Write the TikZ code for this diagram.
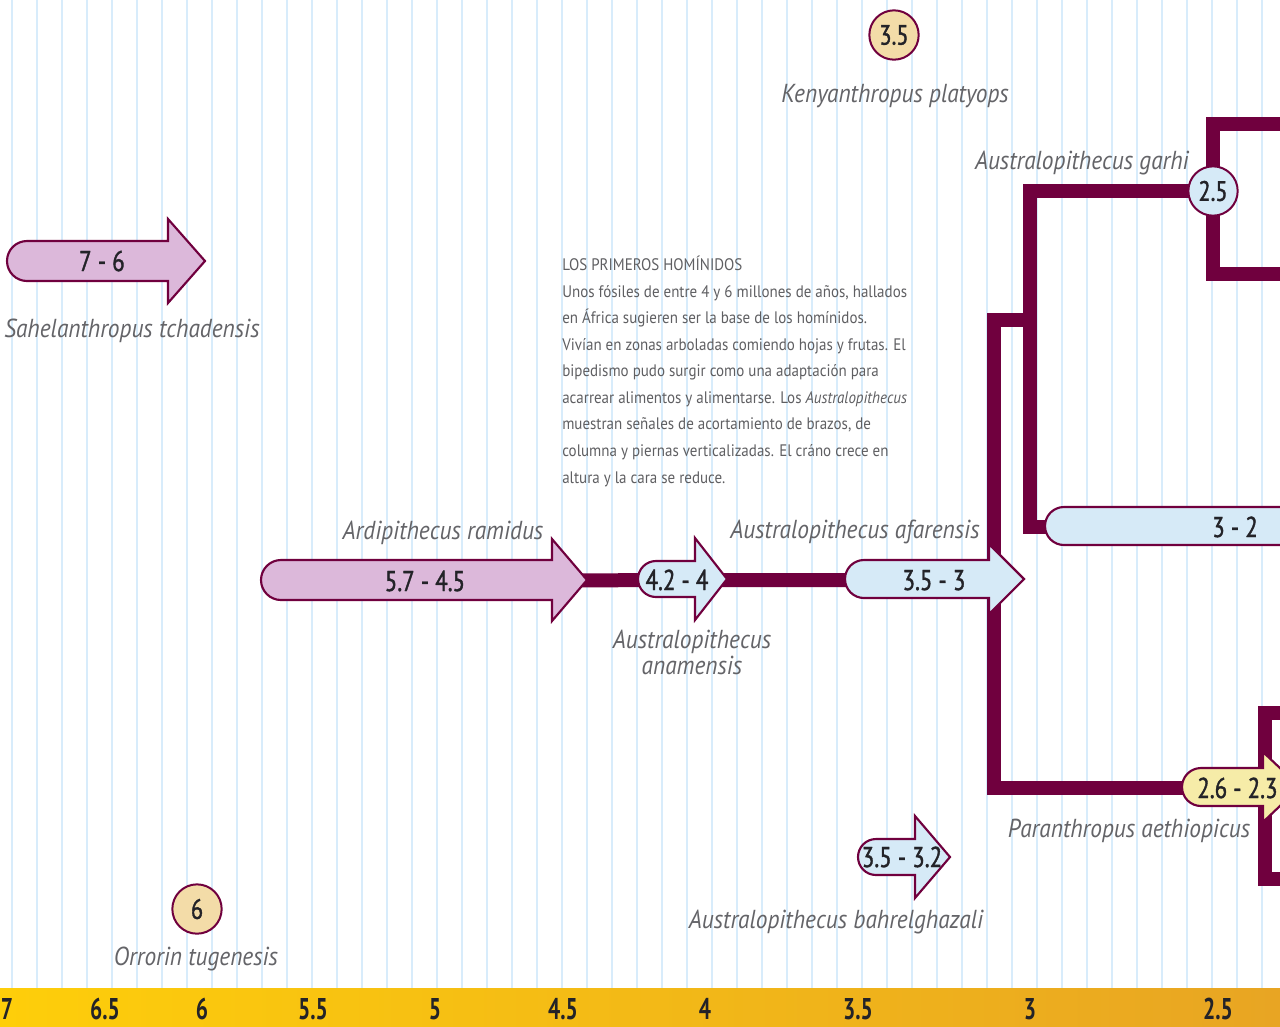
\documentclass[tikz,border=0pt]{standalone}
\usepackage{fontspec}
\setmainfont{PT Sans}
\newfontfamily\cond[FakeStretch=0.9]{PT Sans}
\newfontfamily\numfont[FakeStretch=0.8, FakeBold=1.3]{PT Sans}
\newfontfamily\barfont[FakeStretch=0.72]{PT Sans}

\definecolor{plum}{RGB}{112,0,62}
\definecolor{pinkfill}{RGB}{220,184,218}
\definecolor{bluefill}{RGB}{214,234,247}
\definecolor{tanfill}{RGB}{243,220,168}
\definecolor{yelfill}{RGB}{246,236,168}
\definecolor{inkgray}{RGB}{100,100,104}
\definecolor{blockgray}{RGB}{95,95,98}
\definecolor{numink}{RGB}{35,35,40}
\definecolor{stripe}{RGB}{216,236,251}
\definecolor{barleft}{RGB}{254,206,10}
\definecolor{barmid}{RGB}{250,198,0}
\definecolor{barright}{RGB}{232,165,35}

\pgfdeclarelayer{stripes}
\pgfdeclarelayer{links}
\pgfsetlayers{stripes,links,main}

\tikzset{
  link/.style={draw=plum, line width=10.5pt, line join=miter},
  shell/.style={draw=plum, line width=1.6pt, line join=miter},
  span/.style={font=\numfont\fontsize{21.5}{24}\selectfont, text=numink, inner sep=0pt,
    text height=15pt, text depth=0pt},
  dot/.style={circle, draw=plum, line width=1.5pt, minimum size=37pt, inner sep=0pt,
    font=\numfont\fontsize{21}{22}\selectfont, text=numink},
  taxonfont/.style={font=\cond\itshape\fontsize{19.5}{19.5}\selectfont, text=inkgray,
    inner sep=0pt},
  taxon/.style={taxonfont, text height=14pt, text depth=0pt},
  tick/.style={font=\barfont\bfseries\fontsize{22.5}{24}\selectfont, text=numink, inner sep=0pt},
}

% time-span arrow: fill, tail x, head base x, tip x, mid y, half body, half head
\newcommand\spanarrow[7]{%
  \path[shell, fill=#1] ({#3},{#5-#6}) -- ({#2+#6},{#5-#6})
    arc[start angle=90, end angle=270, radius={0.75pt*#6}]
    -- ({#3},{#5+#6}) -- ({#3},{#5+#7}) -- ({#4},{#5}) -- ({#3},{#5-#7}) -- cycle;}

\begin{document}
\begin{tikzpicture}[x=0.75pt, y=-0.75pt]
\useasboundingbox (0,0) rectangle (1280,1026);
\clip (0,0) rectangle (1280,1026);

% ruled background
\begin{pgfonlayer}{stripes}
  \fill[white] (0,0) rectangle (1280,1026);
  \foreach \i in {0,...,51}
    \draw[stripe, line width=1.6pt] ({11.7+25*\i},0) -- ({11.7+25*\i},990);
\end{pgfonlayer}

% time scale (millions of years)
\shade[left color=barleft, middle color=barmid, right color=barright] (0,988) rectangle (1280,1026);
\foreach \x/\t [count=\k] in {7/7, 105/6.5, 202/6, 313/5.5, 435/5, 563/4.5, 705/4, 858/3.5, 1030/3, 1218/2.5}
  \node[tick] (tick\k) at (\x,1009) {\t};

% span arrows
\spanarrow{pinkfill}{7}{168}{205}{261}{20}{42}
\spanarrow{pinkfill}{261}{552}{587}{580}{20}{41}
\spanarrow{bluefill}{638}{695}{727}{579}{18}{41}
\spanarrow{bluefill}{845}{989}{1024}{579}{19}{35}
\spanarrow{bluefill}{858}{915}{950}{857}{18}{41}
\spanarrow{yelfill}{1182}{1263}{1300}{787}{19}{35}
\path[shell, fill=bluefill] (1300,507) -- (1064,507)
  arc[start angle=90, end angle=270, radius=14.25pt] -- (1300,545);

\node[span] (sah) at (102,261) {7 - 6};
\node[span] (ard) at (425,581) {5.7 - 4.5};
\node[span] (ana) at (677,580) {4.2 - 4};
\node[span] (afa) at (934,580) {3.5 - 3};
\node[span] (bah) at (902,857) {3.5 - 3.2};
\node[span] (t32) at (1235,527) {3 - 2};
\node[span, anchor=west] (par) at (1197,788) {2.6 - 2.3};

% single dates
\node[dot, fill=tanfill] (ken) at (894,35) {3.5};
\node[dot, fill=bluefill] (gar) at (1213,191) {2.5};
\node[dot, fill=tanfill] (orr) at (197,909) {6};

% species names
\node[taxon, anchor=west] (nsah) at (4,328) {Sahelanthropus tchadensis};
\node[taxon] (nard) at (443,530) {Ardipithecus ramidus};
\node[taxon] (nafa) at (855,529) {Australopithecus afarensis};
\node[taxonfont, anchor=north, align=center, font=\cond\itshape\fontsize{19.5}{19.5}\selectfont]
  (nana) at (692,630) {Australopithecus\\anamensis};
\node[taxon] (nken) at (895,93) {Kenyanthropus platyops};
\node[taxon, anchor=east] (ngar) at (1189,160) {Australopithecus garhi};
\node[taxon] (npar) at (1129,828) {Paranthropus aethiopicus};
\node[taxon] (nbah) at (836,919) {Australopithecus bahrelghazali};
\node[taxon] (norr) at (196,956) {Orrorin tugenesis};

% text block
\node[anchor=north west, inner sep=0pt, align=left, text=blockgray,
      font=\cond\fontsize{12.5}{19.9}\selectfont] (intro) at (562,256)
  {LOS PRIMEROS HOMÍNIDOS\\
   Unos fósiles de entre 4 y 6 millones de años, hallados\\
   en África sugieren ser la base de los homínidos.\\
   Vivían en zonas arboladas comiendo hojas y frutas. El\\
   bipedismo pudo surgir como una adaptación para\\
   acarrear alimentos y alimentarse. Los \textit{Australopithecus}\\
   muestran señales de acortamiento de brazos, de\\
   columna y piernas verticalizadas. El cráno crece en\\
   altura y la cara se reduce.};

% lineage connectors
\coordinate (j1) at (994,320);
\coordinate (j2) at (1030,320);
\coordinate (g1) at (1300,124);
\coordinate (g2) at (1300,274);
\coordinate (p0) at (1265,713);
\coordinate (p1) at (1300,713);
\coordinate (p2) at (1300,879);
\begin{pgfonlayer}{links}
  \draw[link] (ard.center) -- (ana.center) -- (afa.center);
  \draw[link] (j2) -- (j1) -- (j1 |- par.center) -- (par.center);
  \draw[link] (gar.center) -| (j2) |- (t32.center);
  \draw[link] (g1) -| (gar.center) |- (g2);
  \draw[link] (p1) -- (p0) -- (p0 |- p2) -- (p2);
\end{pgfonlayer}
\end{tikzpicture}
\end{document}
